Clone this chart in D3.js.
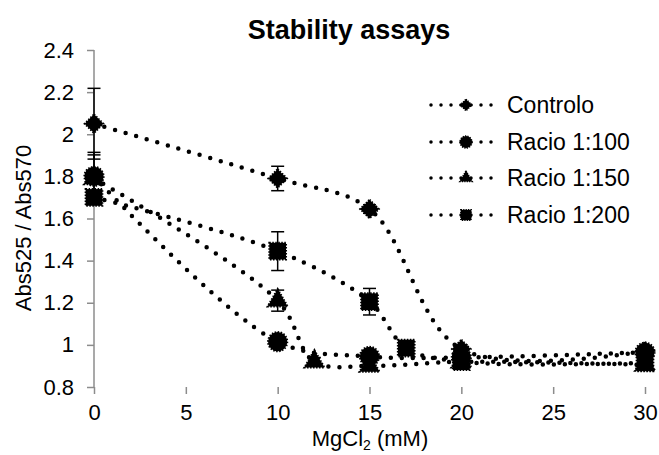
<!DOCTYPE html>
<html>
<head>
<meta charset="utf-8">
<script src="https://cdn.jsdelivr.net/npm/d3@7"></script>
<style>
  html, body { margin: 0; padding: 0; background: #ffffff; }
  svg { display: block; font-family: "Liberation Sans", Arial, sans-serif; }
</style>
</head>
<body>
<svg id="chart" width="659" height="455"></svg>
<script>
// ---- data ----
const seriesNames = ["Controlo", "Racio 1:100", "Racio 1:150", "Racio 1:200"];
const markerTypes = ["diamond", "circle", "triangle", "square"];

const controloX = [0, 10, 15, 20, 30];
const controloY = [2.05, 1.79, 1.645, 0.98, 0.97];
const controloErr = [0.168, 0.058, 0.02, 0.02, 0.02];

const racio100X = [0, 10, 15, 20, 30];
const racio100Y = [1.80, 1.015, 0.945, 0.94, 0.965];
const racio100Err = [0.114, 0.02, 0.02, 0.02, 0.02];

const racio150X = [0, 10, 12, 15, 20, 30];
const racio150Y = [1.79, 1.21, 0.92, 0.90, 0.92, 0.905];
const racio150Err = [0.112, 0.05, 0.02, 0.02, 0.02, 0.02];

const racio200X = [0, 10, 15, 17, 20, 30];
const racio200Y = [1.70, 1.445, 1.205, 0.985, 0.92, 0.915];
const racio200Err = [0.03, 0.092, 0.063, 0.02, 0.02, 0.02];

const xTicks = [0, 5, 10, 15, 20, 25, 30];
const yTicks = [0.8, 1.0, 1.2, 1.4, 1.6, 1.8, 2.0, 2.2, 2.4];
const yTickLabels = ["0.8", "1", "1.2", "1.4", "1.6", "1.8", "2", "2.2", "2.4"];

const titleText = "Stability assays";
const yTitle = "Abs525 / Abs570";

// ---- layout ----
const svg = d3.select("#chart");
const mLeft = 94, mRight = 645, mTop = 50, mBottom = 387;
const axisColor = "#8c8c8c";
const fontSize = 22;

const x = d3.scaleLinear().domain([0, 30]).range([mLeft, mRight]);
const y = d3.scaleLinear().domain([0.8, 2.4]).range([mBottom, mTop]);

const series = [
  { name: seriesNames[0], m: markerTypes[0], xs: controloX, ys: controloY, es: controloErr },
  { name: seriesNames[1], m: markerTypes[1], xs: racio100X, ys: racio100Y, es: racio100Err },
  { name: seriesNames[2], m: markerTypes[2], xs: racio150X, ys: racio150Y, es: racio150Err },
  { name: seriesNames[3], m: markerTypes[3], xs: racio200X, ys: racio200Y, es: racio200Err }
];

// axes
const yAxis = d3.axisLeft(y).tickValues(yTicks).tickSize(7).tickPadding(13)
  .tickFormat((d, i) => yTickLabels[i]);
const gy = svg.append("g").attr("transform", `translate(${mLeft},0)`).call(yAxis);
const xAxis = d3.axisBottom(x).tickValues(xTicks).tickSize(7).tickPadding(10)
  .tickFormat(d3.format("d"));
const gx = svg.append("g").attr("transform", `translate(0,${mBottom})`).call(xAxis);
[gx, gy].forEach(g => {
  g.select(".domain").attr("stroke", axisColor).attr("stroke-width", 1.5);
  g.selectAll(".tick line").attr("stroke", axisColor).attr("stroke-width", 1.5);
  g.selectAll(".tick text").attr("fill", "#000").attr("font-size", fontSize)
    .attr("font-family", "Liberation Sans, Arial, sans-serif");
});
gx.select(".domain").attr("d", `M${mLeft},${mBottom}H${mRight}`);
gy.select(".domain").attr("d", `M0,${mTop}V${mBottom}`);

// markers
function symbolFor(type, scale) {
  const s = scale || 1;
  if (type === "diamond") return { path: d3.symbol(d3.symbolSquare, 175 * s * s)(), rot: 45 };
  if (type === "circle") return { path: d3.symbol(d3.symbolCircle, 290 * s * s)(), rot: 0 };
  if (type === "triangle") return { path: d3.symbol(d3.symbolTriangle, 175 * s * s)(), rot: 0 };
  return { path: d3.symbol(d3.symbolSquare, 280 * s * s)(), rot: 0 };
}

const line = d3.line().curve(d3.curveCatmullRom.alpha(0.5));

const plot = svg.append("g");

// lines
series.forEach(s => {
  const pts = s.xs.map((v, i) => [x(v), y(s.ys[i])]);
  plot.append("path")
    .attr("d", line(pts))
    .attr("fill", "none")
    .attr("stroke", "#000")
    .attr("stroke-width", 4.5)
    .attr("stroke-linecap", "round")
    .attr("stroke-dasharray", "0,11");
});

// error bars
series.forEach(s => {
  s.xs.forEach((v, i) => {
    const cx = x(v), y1 = y(s.ys[i] + s.es[i]), y2 = y(s.ys[i] - s.es[i]);
    const g = plot.append("g").attr("stroke", "#000").attr("stroke-width", 1.5);
    g.append("line").attr("x1", cx).attr("x2", cx).attr("y1", y1).attr("y2", y2);
    g.append("line").attr("x1", cx - 6.5).attr("x2", cx + 6.5).attr("y1", y1).attr("y2", y1);
    g.append("line").attr("x1", cx - 6.5).attr("x2", cx + 6.5).attr("y1", y2).attr("y2", y2);
  });
});

// markers
series.forEach(s => {
  const sym = symbolFor(s.m, 1);
  s.xs.forEach((v, i) => {
    plot.append("path")
      .attr("d", sym.path)
      .attr("transform", `translate(${x(v)},${y(s.ys[i])}) rotate(${sym.rot})`)
      .attr("fill", "#000")
      .attr("stroke", "#000")
      .attr("stroke-width", 2)
      .attr("stroke-dasharray", "1.5,1.5");
  });
});

// title
svg.append("text").attr("x", 349).attr("y", 39).attr("text-anchor", "middle")
  .attr("font-size", 27).attr("font-weight", "bold").text(titleText);

// y title
svg.append("text").attr("transform", `translate(31,228) rotate(-90)`)
  .attr("text-anchor", "middle").attr("font-size", fontSize).text(yTitle);

// x title with subscript
const xt = svg.append("text").attr("x", 370).attr("y", 446).attr("text-anchor", "middle")
  .attr("font-size", fontSize);
xt.append("tspan").text("MgCl");
xt.append("tspan").attr("font-size", 14).attr("dy", 4).text("2");
xt.append("tspan").attr("dy", -4).text(" (mM)");

// legend
const legendRows = [105, 142, 178, 215];
series.forEach((s, i) => {
  const ly = legendRows[i];
  const g = svg.append("g");
  g.append("path").attr("d", `M431,${ly}H496`)
    .attr("stroke", "#000").attr("stroke-width", 3.5)
    .attr("stroke-linecap", "round").attr("stroke-dasharray", "0,10");
  const sym = symbolFor(s.m, 0.62);
  g.append("path").attr("d", sym.path)
    .attr("transform", `translate(466,${ly}) rotate(${sym.rot})`)
    .attr("fill", "#000").attr("stroke", "#000").attr("stroke-width", 1.5)
    .attr("stroke-dasharray", "1.2,1.2");
  g.append("text").attr("x", 507).attr("y", ly + 8).attr("font-size", 23).text(s.name);
});
</script>
</body>
</html>
